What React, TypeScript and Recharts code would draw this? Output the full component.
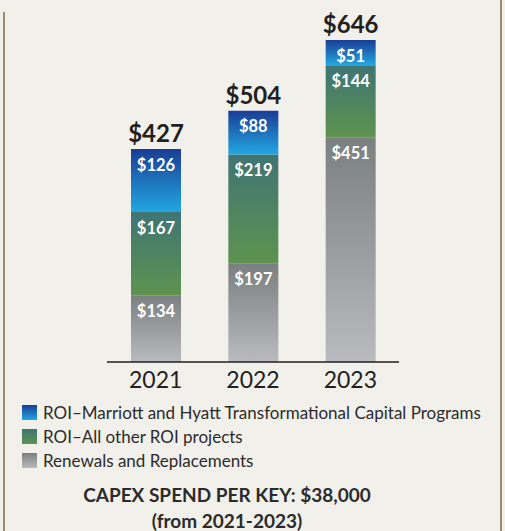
import React from 'react';
import { BarChart, Bar, XAxis, YAxis, LabelList, Legend } from 'recharts';

const years = ['2021', '2022', '2023'];
const renewals = [134, 197, 451];
const roiOther = [167, 219, 144];
const roiTransform = [126, 88, 51];
const totals = [427, 504, 646];

const legendItems = [
  { name: 'ROI\u2013Marriott and Hyatt Transformational Capital Programs', grad: 'gBlue' },
  { name: 'ROI\u2013All other ROI projects', grad: 'gGreen' },
  { name: 'Renewals and Replacements', grad: 'gGray' },
];

const data = years.map((y, i) => ({
  year: y,
  renewals: renewals[i],
  roiOther: roiOther[i],
  roiTransform: roiTransform[i],
  total: totals[i],
}));

const FONT = 'Lato, "Noto Sans", sans-serif';
const fmt = (v: any) => `$${v}`;

const LegendContent = () => (
  <div style={{ fontFamily: FONT, textAlign: 'left' }}>
    {legendItems.map((it) => (
      <div key={it.name} style={{ display: 'flex', alignItems: 'center', height: 24 }}>
        <svg width={15} height={15} style={{ marginRight: 6, flex: 'none' }}>
          <rect x={0} y={0} width={15} height={15} fill={`url(#${it.grad}L)`} />
        </svg>
        <span style={{ fontSize: 17, color: '#2b2b2b', whiteSpace: 'nowrap' }}>{it.name}</span>
      </div>
    ))}
  </div>
);

export default function App() {
  return (
    <div
      style={{
        position: 'absolute',
        left: 0,
        top: 0,
        width: 505,
        height: 531,
        background: '#f2f0eb',
        overflow: 'hidden',
      }}
    >
      <svg width={0} height={0} style={{ position: 'absolute' }}>
        <defs>
          <linearGradient id="gBlueL" x1="0" y1="0" x2="0" y2="1">
            <stop offset="0%" stopColor="#1a3d96" />
            <stop offset="100%" stopColor="#22a7e2" />
          </linearGradient>
          <linearGradient id="gGreenL" x1="0" y1="0" x2="0" y2="1">
            <stop offset="0%" stopColor="#3f7474" />
            <stop offset="100%" stopColor="#5e934f" />
          </linearGradient>
          <linearGradient id="gGrayL" x1="0" y1="0" x2="0" y2="1">
            <stop offset="0%" stopColor="#7a7f80" />
            <stop offset="100%" stopColor="#b9bbbe" />
          </linearGradient>
        </defs>
      </svg>
      <div style={{ position: 'absolute', left: 3, top: 12, width: 2, height: 519, background: '#9a8c6e' }} />
      <div style={{ position: 'absolute', left: 500, top: 0, width: 2, height: 531, background: '#9a8c6e' }} />
      <BarChart
        width={505}
        height={531}
        data={data}
        margin={{ top: 13, right: 106, bottom: 129, left: 107 }}
        barSize={50}
      >
        <defs>
          <linearGradient id="gBlue" x1="0" y1="0" x2="0" y2="1">
            <stop offset="0%" stopColor="#1a3d96" />
            <stop offset="100%" stopColor="#22a7e2" />
          </linearGradient>
          <linearGradient id="gGreen" x1="0" y1="0" x2="0" y2="1">
            <stop offset="0%" stopColor="#3f7474" />
            <stop offset="100%" stopColor="#5e934f" />
          </linearGradient>
          <linearGradient id="gGray" x1="0" y1="0" x2="0" y2="1">
            <stop offset="0%" stopColor="#7a7f80" />
            <stop offset="100%" stopColor="#b9bbbe" />
          </linearGradient>
        </defs>
        <XAxis
          dataKey="year"
          axisLine={{ stroke: '#231f20', strokeWidth: 1.5 }}
          tickLine={false}
          tickSize={0}
          tickMargin={10}
          tick={{ fill: '#231f20', fontSize: 23, fontFamily: FONT }}
          height={40}
        />
        <YAxis hide domain={[0, 700]} />
        <Bar dataKey="renewals" stackId="a" fill="url(#gGray)" isAnimationActive={false}>
          <LabelList dataKey="renewals" position="insideTop" offset={10} formatter={fmt}
            style={{ fill: '#ffffff', fontSize: 16.5, fontWeight: 700, fontFamily: FONT }} />
        </Bar>
        <Bar dataKey="roiOther" stackId="a" fill="url(#gGreen)" isAnimationActive={false}>
          <LabelList dataKey="roiOther" position="insideTop" offset={10} formatter={fmt}
            style={{ fill: '#ffffff', fontSize: 16.5, fontWeight: 700, fontFamily: FONT }} />
        </Bar>
        <Bar dataKey="roiTransform" stackId="a" fill="url(#gBlue)" isAnimationActive={false}>
          <LabelList dataKey="roiTransform" position="insideTop" offset={10} formatter={fmt}
            style={{ fill: '#ffffff', fontSize: 16.5, fontWeight: 700, fontFamily: FONT }} />
          <LabelList dataKey="total" position="top" offset={7} formatter={fmt}
            style={{ fill: '#231f20', fontSize: 24, fontWeight: 700, fontFamily: FONT }} />
        </Bar>
        <Legend
          content={<LegendContent />}
          layout="horizontal"
          verticalAlign="middle"
          align="center"
          wrapperStyle={{ position: 'absolute', left: 22, top: 400, width: 480 }}
        />
      </BarChart>
      <div
        style={{
          position: 'absolute',
          left: 0,
          width: 454,
          top: 482,
          textAlign: 'center',
          fontFamily: FONT,
          fontWeight: 700,
          fontSize: 19,
          lineHeight: '26px',
          color: '#2b2b2b',
        }}
      >
        CAPEX SPEND PER KEY: $38,000
        <br />
        (from 2021-2023)
      </div>
    </div>
  );
}
